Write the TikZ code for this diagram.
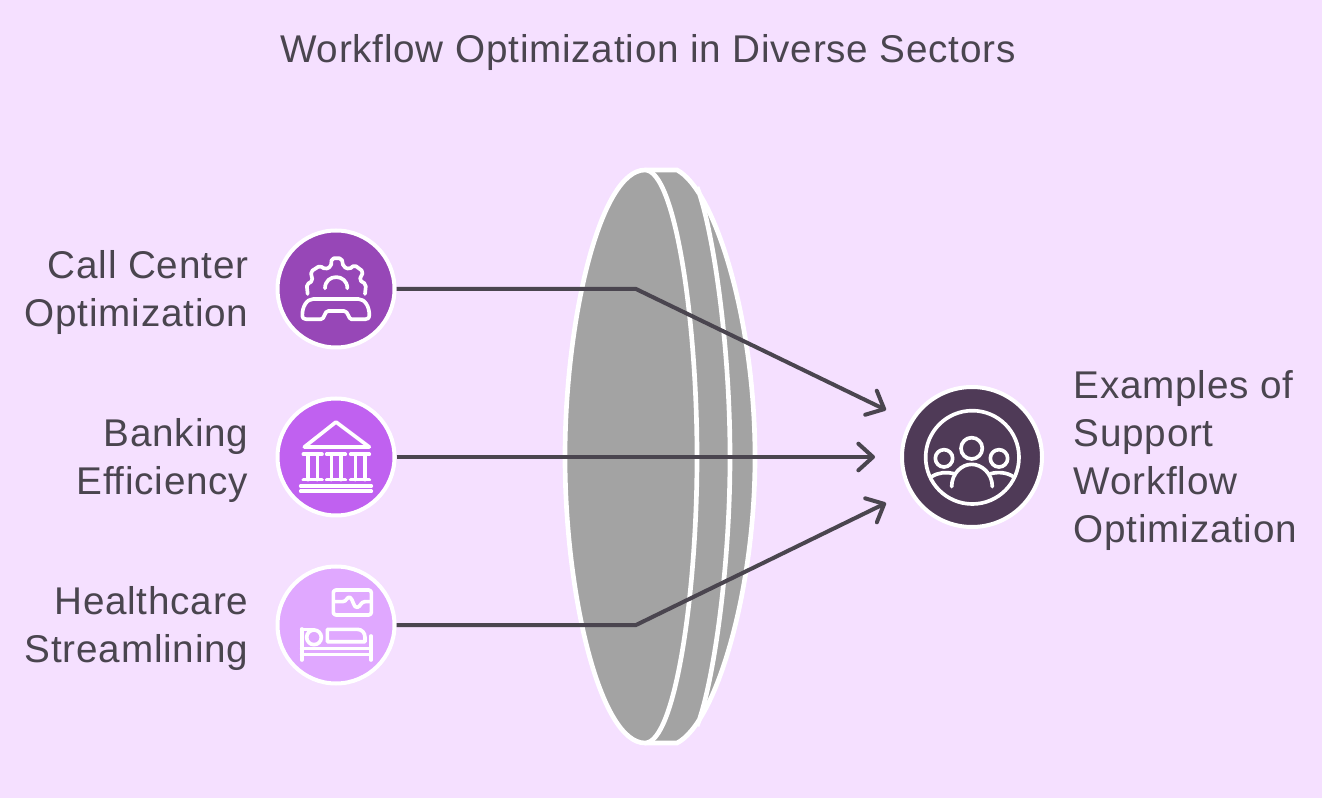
\documentclass[tikz,border=0pt]{standalone}
\usepackage{fontspec}
\setmainfont[LetterSpace=2]{Liberation Sans}
\usetikzlibrary{arrows.meta}
\definecolor{page area}{HTML}{F5E0FF}
\definecolor{lens area}{HTML}{A3A3A3}
\definecolor{ink}{HTML}{4A454F}
\definecolor{call area}{HTML}{9747B7}
\definecolor{bank area}{HTML}{C061F0}
\definecolor{care area}{HTML}{E0A8FF}
\definecolor{team area}{HTML}{4F3A57}
\def\lensback{(645,170) -- (677,170) .. controls (715,190) and (755,320) .. (755,457) .. controls (755,594) and (715,724) .. (677,743) -- (645,743)}
\def\lensmid{(697,187) .. controls (712,225) and (730,340) .. (730,457) .. controls (730,574) and (712,689) .. (697,726)}
\def\lensfront{(645,170) .. controls (600,170) and (565,320) .. (565,457) .. controls (565,594) and (600,743) .. (645,743) .. controls (675,743) and (697,594) .. (697,457) .. controls (697,320) and (675,170) .. (645,170)}
\tikzset{lens/.style={fill=lens area, draw=white, line width=3.5pt},
	badge/.style={circle, draw=white, line width=3pt, inner sep=0pt, minimum size=87.75pt},
	label/.style={text=ink, font=\fontsize{29pt}{36pt}\selectfont},
	link/.style={draw=ink, line width=3pt, -{Straight Barb[length=11pt,width=20pt,round]}},
	icon/.style={draw=white, line width=2.75pt, line cap=round, line join=round, x=.25pt, y=-.25pt}}

\begin{document}
\begin{tikzpicture}[x=.75pt, y=-.75pt]
		\useasboundingbox[fill=page area] (0,0) rectangle (1322,798);
		\node[label] (title) at (648,53) {Workflow Optimization in Diverse Sectors};
		\draw[lens] \lensback;
		\draw[lens] \lensmid;
		\draw[lens] \lensfront;
		\node[badge, fill=call area] (call) at (336,289) {};
		\node[badge, fill=bank area] (bank) at (336,457) {};
		\node[badge, fill=care area] (care) at (336,625) {};
		\node[badge, fill=team area, minimum size=105pt] (team) at (972,457) {};
		\node[label, anchor=east, align=right] (calltext) at (253,293) {Call Center\\Optimization};
		\node[label, anchor=east, align=right] (banktext) at (253,461) {Banking\\Efficiency};
		\node[label, anchor=east, align=right] (caretext) at (253,629) {Healthcare\\Streamlining};
		\node[label, anchor=west, align=left] (teamtext) at (1069,461) {Examples of\\Support\\Workflow\\Optimization};
		\coordinate (callbend) at (636,289);
		\coordinate (carebend) at (636,625);
		\coordinate (calltip) at (886,410);
		\coordinate (banktip) at (875,457);
		\coordinate (caretip) at (886,503);
		\draw[link] (call.east) -- (callbend) -- (calltip);
		\draw[link] (bank.east) -- (banktip);
		\draw[link] (care.east) -- (carebend) -- (caretip);
		\begin{scope}[shift={(270,225)}, icon]
			\draw[rounded corners=1.5pt] (113,207) -- (110,178) -- (128,168) -- (122,140) -- (150,122) -- (165,133) -- (183,125) -- (185,100) -- (215,100) -- (220,125) -- (238,133) -- (253,120) -- (280,140) -- (268,165) -- (288,178) -- (285,207);
			\draw (165,190) .. controls (165,145) and (232,145) .. (232,190);
			\draw (130,222) -- (265,222) .. controls (285,222) and (298,245) .. (298,270) .. controls (298,280) and (292,283) .. (285,283) -- (245,283) .. controls (235,283) and (235,258) .. (222,258) -- (175,258) .. controls (162,258) and (165,283) .. (152,283) -- (110,283) .. controls (102,283) and (97,280) .. (97,270) .. controls (97,245) and (110,222) .. (130,222) -- cycle;
		\end{scope}
		\begin{scope}[shift={(270,392)}, icon]
			\draw (198,90) -- (298,165) -- (103,165) -- cycle;
			\foreach \col in {128,198,270} {
				\draw (\col-28,187) -- (\col+28,187);
				\draw (\col-28,263) -- (\col+28,263);
				\draw (\col-14,187) -- (\col-14,263);
				\draw (\col+14,187) -- (\col+14,263);
			}
			\draw (92,282) -- (304,282);
			\draw (92,298) -- (304,298);
		\end{scope}
		\begin{scope}[shift={(270,560)}, icon]
			\draw[rounded corners=2pt] (190,90) rectangle (304,165);
			\draw (192,125) -- (218,125) .. controls (230,125) and (232,108) .. (240,112) .. controls (250,118) and (250,145) .. (262,142) .. controls (272,140) and (272,125) .. (285,125) -- (302,125);
			\draw (95,207) -- (95,300);
			\draw (303,228) -- (303,300);
			\draw (95,265) -- (303,265);
			\draw (95,283) -- (303,283);
			\draw (95,208) -- (130,208);
			\draw (132,232) circle (22);
			\draw (172,245) -- (172,208) -- (262,208) .. controls (275,208) and (285,218) .. (285,232) -- (285,245) -- cycle;
		\end{scope}
		\begin{scope}[shift={(860,375)}, icon]
			\draw (337,247) circle (140);
			\draw (335,220) circle (32);
			\draw (252,250) circle (26);
			\draw (417,250) circle (26);
			\draw (275,335) .. controls (275,295) and (305,268) .. (335,268) .. controls (365,268) and (397,295) .. (397,335);
			\draw (215,305) .. controls (235,292) and (260,290) .. (282,296);
			\draw (460,305) .. controls (440,292) and (415,290) .. (392,296);
		\end{scope}
		\end{tikzpicture}
\end{document}
